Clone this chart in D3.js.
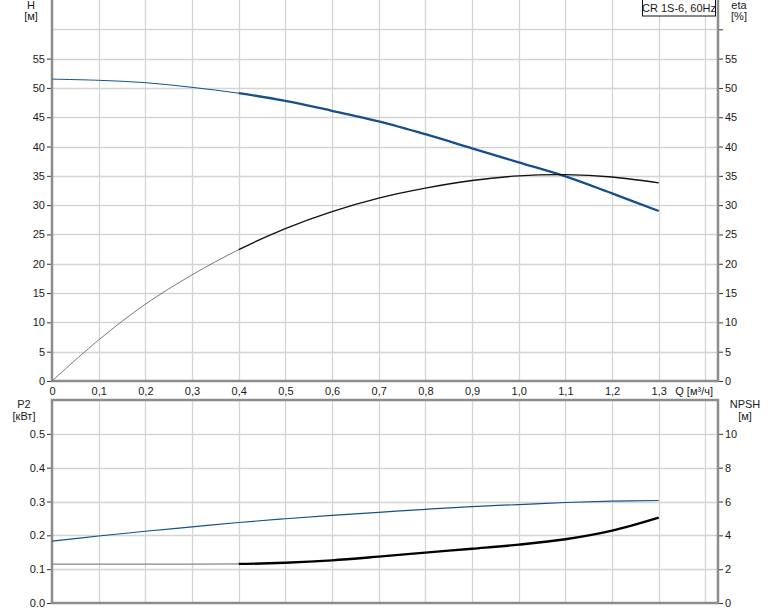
<!DOCTYPE html>
<html><head><meta charset="utf-8">
<script src="https://cdn.jsdelivr.net/npm/d3@7"></script>
<style>
body{margin:0;background:#fff;}
svg{display:block;font-family:"Liberation Sans",Arial,sans-serif;}
</style></head><body>
<svg id="c" width="774" height="611"></svg>
<script>
const flow = [0,0.1,0.2,0.3,0.4,0.5,0.6,0.7,0.8,0.9,1.0,1.1,1.2,1.3];
const head = [51.5,51.3,50.9,50.1,49.1,47.8,46.1,44.3,42.1,39.7,37.3,34.9,32.0,29.0];
const eta  = [0,7.0,13.1,18.1,22.4,26.0,28.9,31.2,32.9,34.2,35.0,35.2,34.8,33.8];
const p2   = [0.183,0.198,0.212,0.225,0.238,0.249,0.259,0.268,0.277,0.285,0.291,0.297,0.301,0.303];
const npsh = [2.3,2.3,2.3,2.3,2.31,2.38,2.52,2.74,2.98,3.21,3.45,3.77,4.28,5.05];
const xTicks = [0,0.1,0.2,0.3,0.4,0.5,0.6,0.7,0.8,0.9,1.0,1.1,1.2,1.3];
const xGrid = [0.1,0.2,0.3,0.4,0.5,0.6,0.7,0.8,0.9,1.0,1.1,1.2,1.3,1.4];
const hTicks = [0,5,10,15,20,25,30,35,40,45,50,55];
const p2Ticks = [0,0.1,0.2,0.3,0.4,0.5];
const npshTicks = [0,2,4,6,8,10];
const title = "CR 1S-6, 60Hz";

const svg = d3.select("#c");
const L=52, R=718, T1=0, B1=381, T2=400, B2=603;
const x = d3.scaleLinear().domain([0,1.427]).range([L,R]);
const yH = d3.scaleLinear().domain([0,65]).range([B1,T1]);
const yP = d3.scaleLinear().domain([0,0.6]).range([B2,T2]);
const yN = d3.scaleLinear().domain([0,12]).range([B2,T2]);
const gridC="#d4d4d4", axisC="#8c8c8c", blue="#15508a";
const fmtX = d => d===0 ? "0" : d3.format(".1f")(d).replace(".",",");

function grid(y, yticks, top, bottom){
  const g = svg.append("g");
  g.selectAll(".v").data(xGrid).join("line")
    .attr("x1",d=>Math.round(x(d))+0.5).attr("x2",d=>Math.round(x(d))+0.5)
    .attr("y1",top).attr("y2",bottom).attr("stroke",gridC).attr("stroke-width",1.3);
  g.selectAll(".h").data(yticks).join("line")
    .attr("y1",d=>Math.round(y(d))+0.5).attr("y2",d=>Math.round(y(d))+0.5)
    .attr("x1",L).attr("x2",R).attr("stroke",gridC).attr("stroke-width",1.3);
}
grid(yH, [5,10,15,20,25,30,35,40,45,50,55,60], T1, B1);
grid(yP, [0.1,0.2,0.3,0.4,0.5], T2, B2);

function axisLeft(scale, ticks, fmt, tx){
  const a = d3.axisLeft(scale).tickValues(ticks).tickFormat(fmt).tickSize(5).tickPadding(2);
  return svg.append("g").attr("transform",`translate(${tx},0)`).call(a);
}
function axisRight(scale, ticks, fmt, tx){
  const a = d3.axisRight(scale).tickValues(ticks).tickFormat(fmt).tickSize(5).tickPadding(2);
  return svg.append("g").attr("transform",`translate(${tx},0)`).call(a);
}
const gl1 = axisLeft(yH, hTicks, d3.format("d"), L);
const gr1 = axisRight(yH, hTicks.concat([60]), d => d===60?"":d3.format("d")(d), R);
const gl2 = axisLeft(yP, p2Ticks, d3.format(".1f"), L);
const gr2 = axisRight(yN, npshTicks, d3.format("d"), R);
[gl1,gr1,gl2,gr2].forEach(g=>{
  g.select(".domain").remove();
  g.selectAll(".tick line").attr("stroke","#333");
  g.selectAll(".tick text").attr("font-size",11).attr("fill","#1a1a1a")
   .attr("font-family","Liberation Sans, Arial, sans-serif");
});
const gx = svg.append("g").attr("transform",`translate(0,${B1})`)
  .call(d3.axisBottom(x).tickValues(xTicks).tickFormat(fmtX).tickSize(0).tickPadding(6));
gx.select(".domain").remove();
gx.selectAll(".tick text").attr("font-size",11).attr("fill","#1a1a1a")
  .attr("font-family","Liberation Sans, Arial, sans-serif");

const frame = svg.append("g").attr("stroke",axisC).attr("stroke-width",2.5).attr("fill","none");
frame.append("line").attr("x1",L).attr("x2",L).attr("y1",T1).attr("y2",B1+1);
frame.append("line").attr("x1",R).attr("x2",R).attr("y1",T1).attr("y2",B1+1);
frame.append("line").attr("x1",L-1).attr("x2",R+1).attr("y1",B1).attr("y2",B1);
frame.append("rect").attr("x",L).attr("y",T2).attr("width",R-L).attr("height",B2-T2);

// clip regions for thin (Q<0.4) and thick (Q>=0.4) parts
const defs = svg.append("defs");
defs.append("clipPath").attr("id","thin").append("rect")
  .attr("x",0).attr("y",0).attr("width",x(0.4)).attr("height",611);
defs.append("clipPath").attr("id","thick").append("rect")
  .attr("x",x(0.4)).attr("y",0).attr("width",774-x(0.4)).attr("height",611);

const pts = (arr)=>flow.map((q,i)=>[q,arr[i]]);
function curve(arr, y, color, w, clip, cv){
  svg.append("path").datum(pts(arr))
    .attr("d", d3.line().x(d=>x(d[0])).y(d=>y(d[1])).curve(cv||d3.curveCatmullRom.alpha(0.5)))
    .attr("fill","none").attr("stroke",color).attr("stroke-width",w)
    .attr("clip-path", clip?`url(#${clip})`:null);
}
curve(head, yH, blue, 1, "thin");
curve(head, yH, blue, 2.3, "thick");
curve(eta, yH, "#555", 0.8, "thin");
curve(eta, yH, "#111", 1.4, "thick");
curve(p2, yP, blue, 1.2, null);
curve(npsh, yN, "#888", 1.2, "thin", d3.curveMonotoneX);
curve(npsh, yN, "#000", 2.4, "thick", d3.curveMonotoneX);

function txt(s, xx, yy, anchor){
  svg.append("text").attr("x",xx).attr("y",yy).attr("text-anchor",anchor||"middle")
    .attr("font-size",11).attr("fill","#1a1a1a").text(s);
}
txt("H", 31, 9); txt("[м]", 31, 20);
txt("eta", 739, 9); txt("[%]", 739, 20);
txt("P2", 24, 408); txt("[кВт]", 24, 420);
txt("NPSH", 745, 408); txt("[м]", 745, 420);
txt("Q [м³/ч]", 713, 395, "end");

svg.append("rect").attr("x",642.5).attr("y",-1).attr("width",73).attr("height",17)
  .attr("fill","#fff").attr("stroke","#111").attr("stroke-width",1);
txt(title, 679, 12);
</script></body></html>
